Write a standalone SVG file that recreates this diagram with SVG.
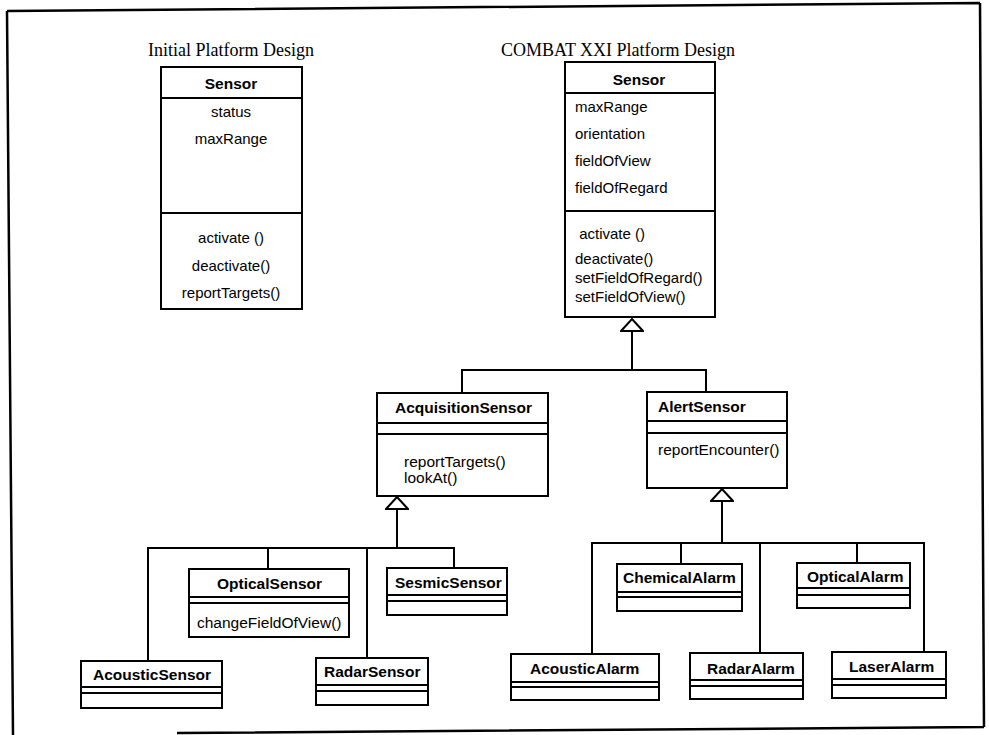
<svg xmlns="http://www.w3.org/2000/svg" width="989" height="735" viewBox="0 0 989 735">
<style>
.t{font-family:"Liberation Sans",Arial,sans-serif;font-size:15.5px;fill:#000}
.s{font-size:15px}
.b{font-weight:bold}
.c{text-anchor:middle}
.title{font-family:"Liberation Serif","Times New Roman",serif;font-size:18px;fill:#000;text-anchor:middle}
.box{fill:#fff;stroke:#000;stroke-width:2}
.div{stroke:#000;stroke-width:2}
.con{fill:none;stroke:#000;stroke-width:2}
.frame{fill:none;stroke:#000;stroke-width:2.5}
</style>
<defs>
<marker id="gen" markerUnits="userSpaceOnUse" viewBox="0 0 14 24" refX="13" refY="12" markerWidth="14" markerHeight="24" orient="auto">
<path d="M1,1 L13,12 L1,23 Z" fill="#fff" stroke="#000" stroke-width="2"/>
</marker>
</defs>
<rect width="989" height="735" fill="#fff"/>
<g id="frame">
<path class="frame" d="M7,11 L980,3 M980,3 L984,727 M984,727 L177,733 M7,11 L13,735"/>
</g>
<text class="title" x="231" y="56">Initial Platform Design</text>
<text class="title" x="618" y="56">COMBAT XXI Platform Design</text>

<g id="connectors">
<path class="con" d="M632,370 V319" marker-end="url(#gen)"/>
<path class="con" d="M462,393 V370 H706 V392"/>
<path class="con" d="M397,548 V497" marker-end="url(#gen)"/>
<path class="con" d="M148,661 V548 H454 V568 M268,548 V569 M367,548 V658"/>
<path class="con" d="M722,543 V489" marker-end="url(#gen)"/>
<path class="con" d="M592,654 V543 H924 V652 M681,543 V564 M760,543 V653 M857,543 V563"/>
</g>

<g id="sensor-initial">
<rect class="box" x="161" y="67" width="141" height="242"/>
<line class="div" x1="161" y1="98" x2="302" y2="98"/>
<line class="div" x1="161" y1="213" x2="303" y2="213"/>
<text class="t b c" x="231" y="89">Sensor</text>
<text class="t s c" x="231" y="117">status</text>
<text class="t s c" x="231" y="144">maxRange</text>
<text class="t s c" x="231" y="243">activate ()</text>
<text class="t s c" x="231" y="271">deactivate()</text>
<text class="t s c" x="231" y="298">reportTargets()</text>
</g>

<g id="sensor">
<rect class="box" x="565" y="62" width="150" height="255"/>
<line class="div" x1="565" y1="93" x2="715" y2="93"/>
<line class="div" x1="565" y1="211" x2="715" y2="211"/>
<text class="t b c" x="639" y="85">Sensor</text>
<text class="t s" x="575" y="112">maxRange</text>
<text class="t s" x="575" y="139">orientation</text>
<text class="t s" x="575" y="166">fieldOfView</text>
<text class="t s" x="575" y="193">fieldOfRegard</text>
<text class="t s" x="575" y="239" xml:space="preserve"> activate ()</text>
<text class="t s" x="575" y="264">deactivate()</text>
<text class="t s" x="575" y="283">setFieldOfRegard()</text>
<text class="t s" x="575" y="302">setFieldOfView()</text>
</g>

<g id="acquisition-sensor">
<rect class="box" x="377" y="393" width="171" height="103"/>
<line class="div" x1="377" y1="423" x2="548" y2="423"/>
<line class="div" x1="377" y1="434" x2="548" y2="434"/>
<text class="t b" x="395" y="413">AcquisitionSensor</text>
<text class="t" x="404" y="467">reportTargets()</text>
<text class="t" x="404" y="483">lookAt()</text>
</g>

<g id="alert-sensor">
<rect class="box" x="647" y="392" width="140" height="96"/>
<line class="div" x1="647" y1="421" x2="787" y2="421"/>
<line class="div" x1="647" y1="433" x2="787" y2="433"/>
<text class="t b" x="658" y="412">AlertSensor</text>
<text class="t" x="658" y="455">reportEncounter()</text>
</g>

<g id="optical-sensor">
<rect class="box" x="189" y="569" width="160" height="68"/>
<line class="div" x1="189" y1="597" x2="349" y2="597"/>
<line class="div" x1="189" y1="603" x2="349" y2="603"/>
<text class="t b" x="217" y="589">OpticalSensor</text>
<text class="t" x="197" y="628">changeFieldOfView()</text>
</g>

<g id="sesmic-sensor">
<rect class="box" x="387" y="568" width="120" height="47"/>
<line class="div" x1="387" y1="595" x2="507" y2="595"/>
<line class="div" x1="387" y1="601" x2="507" y2="601"/>
<text class="t b" x="395" y="588">SesmicSensor</text>
</g>

<g id="acoustic-sensor">
<rect class="box" x="81" y="661" width="141" height="47"/>
<line class="div" x1="81" y1="687" x2="222" y2="687"/>
<line class="div" x1="81" y1="693" x2="222" y2="693"/>
<text class="t b" x="93" y="680">AcousticSensor</text>
</g>

<g id="radar-sensor">
<rect class="box" x="316" y="658" width="112" height="47"/>
<line class="div" x1="316" y1="685" x2="428" y2="685"/>
<line class="div" x1="316" y1="691" x2="428" y2="691"/>
<text class="t b" x="324" y="677">RadarSensor</text>
</g>

<g id="chemical-alarm">
<rect class="box" x="617" y="564" width="125" height="47"/>
<line class="div" x1="617" y1="592" x2="742" y2="592"/>
<line class="div" x1="617" y1="597" x2="742" y2="597"/>
<text class="t b" x="623" y="583">ChemicalAlarm</text>
</g>

<g id="optical-alarm">
<rect class="box" x="797" y="563" width="113" height="45"/>
<line class="div" x1="797" y1="588" x2="910" y2="588"/>
<line class="div" x1="797" y1="595" x2="910" y2="595"/>
<text class="t b" x="807" y="582">OpticalAlarm</text>
</g>

<g id="acoustic-alarm">
<rect class="box" x="511" y="654" width="148" height="46"/>
<line class="div" x1="511" y1="682" x2="659" y2="682"/>
<line class="div" x1="511" y1="687" x2="659" y2="687"/>
<text class="t b" x="530" y="674">AcousticAlarm</text>
</g>

<g id="radar-alarm">
<rect class="box" x="690" y="653" width="113" height="46"/>
<line class="div" x1="690" y1="680" x2="803" y2="680"/>
<line class="div" x1="690" y1="686" x2="803" y2="686"/>
<text class="t b" x="707" y="674">RadarAlarm</text>
</g>

<g id="laser-alarm">
<rect class="box" x="832" y="652" width="114" height="46"/>
<line class="div" x1="832" y1="679" x2="946" y2="679"/>
<line class="div" x1="832" y1="685" x2="946" y2="685"/>
<text class="t b" x="849" y="672">LaserAlarm</text>
</g>
</svg>
